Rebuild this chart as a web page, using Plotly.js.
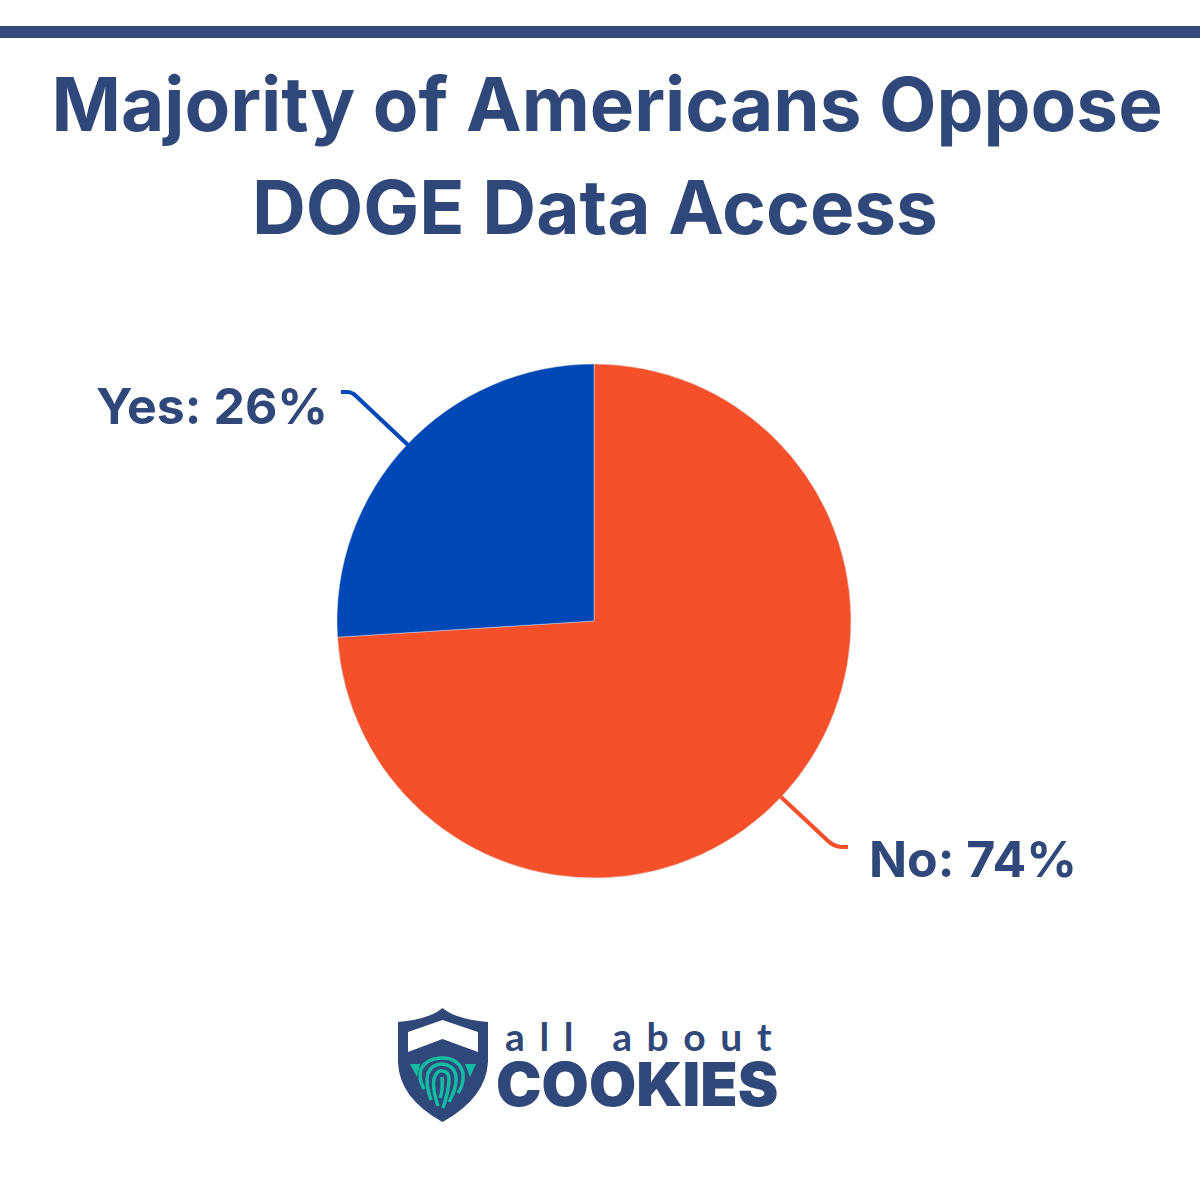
<!DOCTYPE html>
<html>
<head>
<meta charset="utf-8">
<script src="https://cdn.plot.ly/plotly-3.0.1.min.js"></script>
<style>html,body{margin:0;padding:0;background:#fff}#chart{width:1200px;height:1200px}</style>
</head>
<body>
<div id="chart"></div>
<script>
const titleLines = ["Majority of Americans Oppose", "DOGE Data Access"];
const categories = ["No", "Yes"];
const seriesValues = [74, 26];
const sliceColors = ["#F6502B", "#0047B7"];
const brandTop = "all about";
const brandBottom = "COOKIES";
const navy = "#2F4779";
const teal = "#13BBA2";

const W = 1200, H = 1200;
const px = s => s.replace(/(-?[\d.]+) (-?[\d.]+)/g, (m, x, y) => (x / W).toFixed(5) + " " + (1 - y / H).toFixed(5));
const pathShape = (d, fill, stroke, width) => ({
  type: "path", xref: "paper", yref: "paper", layer: "above",
  path: px(d), fillcolor: fill || "rgba(0,0,0,0)",
  line: { color: stroke || "rgba(0,0,0,0)", width: width || 0 }
});
const rect = (x0, y0, x1, y1, c) => ({
  type: "rect", xref: "paper", yref: "paper", x0: x0 / W, x1: x1 / W, y0: 1 - y0 / H, y1: 1 - y1 / H,
  fillcolor: c, line: { width: 0 }, layer: "above"
});
const label = (i, x, y) => ({
  xref: "paper", yref: "paper", x: x / W, y: 1 - y / H, xanchor: "left", yanchor: "middle",
  showarrow: false, text: categories[i] + ": " + seriesValues[i] + "%",
  font: { family: "Inter", size: 50, color: navy, weight: 700 }
});

const shapes = [
  rect(0, 26, 1200, 38, "#344B7C"),
  pathShape("M 341 392 L 347 392 Q 352 392 356 396 L 408 445", null, sliceColors[1], 4),
  pathShape("M 781 797 L 827 840 Q 834 847 842 847 L 848 847", null, sliceColors[0], 4),
  // shield
  pathShape("M 442.5 1008 Q 455 1019 488 1022 L 488 1062 Q 486 1098 442.5 1122 Q 399 1098 398 1062 L 398 1022 Q 430 1019 442.5 1008 Z", navy),
  pathShape("M 442.5 1020 L 478 1032 L 478 1052 L 442.5 1039 L 408 1052 L 408 1032 Z", "#ffffff"),
  // fingerprint
  pathShape("M 410 1064 L 420 1064 L 417 1077 Z", teal),
  pathShape("M 465 1064 L 476 1064 L 470 1077 Z", teal),
  pathShape("M 424 1089 Q 418 1078 421 1069 Q 427 1058 442 1058 Q 459 1058 463 1073 Q 464 1085 458 1093", null, teal, 3.5),
  pathShape("M 431 1100 Q 425 1083 428 1073 Q 432 1064 442 1064 Q 454 1065 456 1076 Q 457 1088 449 1102", null, teal, 3.5),
  pathShape("M 438 1106 Q 431 1085 435 1076 Q 438 1070 443 1071 Q 449 1072 449 1079 Q 449 1090 443 1108", null, teal, 3.5),
  pathShape("M 442 1077 Q 443 1090 440 1098", null, teal, 3.5)
];

const annotations = [
  {
    xref: "paper", yref: "paper", x: 595 / W, y: 1 - 207 / H, xanchor: "center", yanchor: "middle", showarrow: false,
    text: titleLines[1],
    font: { family: "Inter", size: 74.6, color: navy, weight: 700 }
  },
  label(1, 94, 406),
  label(0, 867, 859),
  {
    xref: "paper", yref: "paper", x: 503 / W, y: 1 - 1036 / H, xanchor: "left", yanchor: "middle", showarrow: false,
    text: brandTop.split("").join("\u2009\u2009\u2009"),
    font: { family: "Lato", size: 39, color: navy, weight: 700 }
  },
  {
    xref: "paper", yref: "paper", x: 637 / W, y: 1 - 1084 / H, xanchor: "center", yanchor: "middle", showarrow: false,
    text: brandBottom,
    font: { family: "Inter", size: 61, color: navy, weight: 900 }
  }
];

const data = [{
  type: "pie",
  labels: categories,
  values: seriesValues,
  sort: false,
  direction: "clockwise",
  rotation: 0,
  textinfo: "none",
  hoverinfo: "label+percent",
  marker: { colors: sliceColors, line: { color: "#dddddd", width: 0.5 } },
  domain: { x: [337 / W, 851 / W], y: [1 - 878 / H, 1 - 364 / H] }
}];

const layout = {
  width: W, height: H,
  margin: { l: 0, r: 0, t: 0, b: 0 },
  paper_bgcolor: "#ffffff",
  showlegend: false,
  title: {
    text: titleLines[0],
    x: 607 / W, xref: "paper", xanchor: "center",
    y: 1 - 105 / H, yref: "paper", yanchor: "middle",
    font: { family: "Inter", size: 74.6, color: navy, weight: 700 }
  },
  shapes, annotations
};
Plotly.newPlot("chart", data, layout, { displayModeBar: false, staticPlot: true });
</script>
</body>
</html>
